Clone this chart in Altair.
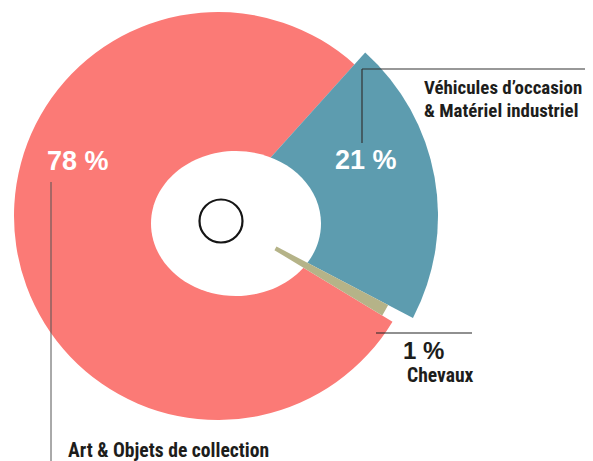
import math
import altair as alt
import pandas as pd

# ---- data ----
categories = ["Véhicules d’occasion\n& Matériel industriel", "Chevaux", "Art & Objets de collection"]
shares = [21, 1, 78]
pct_labels = ["21 %", "1 %", "78 %"]
colors = ["#5d9caf", "#b5b388", "#fb7a76"]

df = pd.DataFrame({"cat": categories, "share": shares, "pct": pct_labels, "order": [0, 1, 2]})

START = math.radians(42)
theta_scale = alt.Scale(domain=[0, 100], range=[START, START + 2 * math.pi])
CX, CY = 210, 208

base = (
    alt.Chart(df)
    .transform_window(end="sum(share)", sort=[alt.SortField("order")], frame=[None, 0])
    .transform_calculate(start="datum.end - datum.share")
)


def slice_layer(idx, outer, inner):
    return (
        base.transform_filter(alt.datum.order == idx)
        .mark_arc(outerRadius=outer, innerRadius=inner, color=colors[idx], stroke=None)
        .encode(
            x=alt.value(CX),
            y=alt.value(CY),
            theta=alt.Theta("start:Q", scale=theta_scale, stack=None),
            theta2="end:Q",
        )
    )


red = slice_layer(2, 204, 0)
blue = slice_layer(0, 220, 0)
tan = slice_layer(1, 192, 66)

# elliptical hole
k = 72.5 / 85
c = 0.5523
ell = (
    f"M1,0 C1,{c*k:.4f} {c:.4f},{k:.4f} 0,{k:.4f} "
    f"C{-c:.4f},{k:.4f} -1,{c*k:.4f} -1,0 "
    f"C-1,{-c*k:.4f} {-c:.4f},{-k:.4f} 0,{-k:.4f} "
    f"C{c:.4f},{-k:.4f} 1,{-c*k:.4f} 1,0 Z"
)
one = pd.DataFrame({"h": [0]})
hole = alt.Chart(one).mark_point(
    shape=ell, size=170 ** 2, filled=True, color="white", opacity=1, strokeWidth=0
).encode(x=alt.value(228), y=alt.value(215.5))

ring = alt.Chart(one).mark_point(
    shape="circle", size=43 ** 2, filled=False, color="#151515", opacity=1, strokeWidth=2.2
).encode(x=alt.value(213), y=alt.value(213))


def rule(x1, y1, x2, y2, color="#333333", w=1.2):
    return alt.Chart(one).mark_rule(color=color, strokeWidth=w).encode(
        x=alt.value(x1), y=alt.value(y1), x2=alt.value(x2), y2=alt.value(y2)
    )


lines = [
    rule(354, 61, 577, 61),
    rule(354, 61, 354, 135),
    rule(368, 325, 464, 325, "#222222"),
    rule(43, 174, 43, 453, "#555555", 1),
]

PCT_FONT = "Liberation Sans"
COND_FONT = "Roboto Condensed, Liberation Sans Narrow, Lato"


def pct_text(idx, x, y, color, size):
    return (
        alt.Chart(df)
        .transform_filter(alt.datum.order == idx)
        .mark_text(align="left", baseline="alphabetic", font=PCT_FONT, fontWeight="bold",
                   fontSize=size, color=color)
        .encode(x=alt.value(x), y=alt.value(y), text="pct:N")
    )


def cat_text(idx, x, y, size=19.6):
    return (
        alt.Chart(df)
        .transform_filter(alt.datum.order == idx)
        .mark_text(align="left", baseline="alphabetic", font=COND_FONT, fontWeight="bold",
                   fontSize=size, color="#1d1d1b", lineBreak="\n", lineHeight=23)
        .encode(x=alt.value(x), y=alt.value(y), text="cat:N")
    )


texts = [
    pct_text(2, 39, 162, "white", 27),
    pct_text(0, 327, 161, "white", 27),
    pct_text(1, 395, 351, "#1d1d1b", 24),
    cat_text(0, 416, 86, 18.9),
    cat_text(1, 399, 374),
    cat_text(2, 60, 449),
]

chart = (
    alt.layer(red, blue, hole, tan, ring, *lines, *texts)
    .properties(width=577, height=453, autosize="none", padding=0)
    .configure_view(stroke=None)
)

chart.save("out.html", embed_options={"renderer": "svg", "actions": False})
